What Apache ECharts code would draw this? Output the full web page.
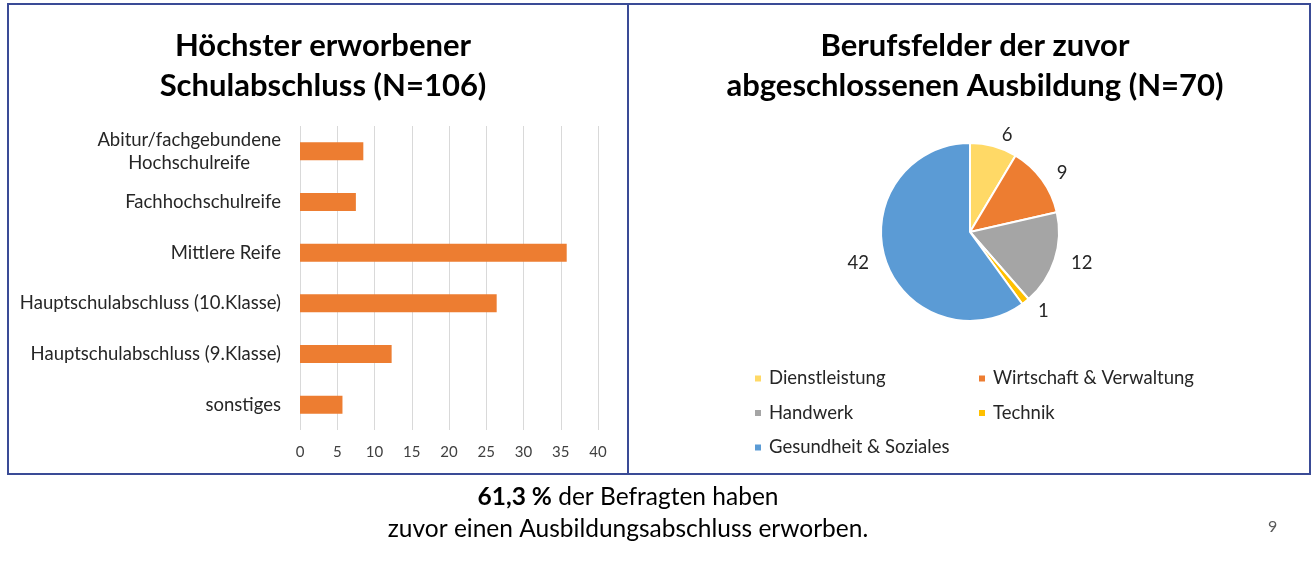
<!DOCTYPE html>
<html>
<head>
<meta charset="utf-8">
<script src="https://cdn.jsdelivr.net/npm/echarts@6/dist/echarts.min.js"></script>
<style>
  html, body { margin: 0; padding: 0; background: #fff; }
  #main { width: 1312px; height: 569px; }
</style>
</head>
<body>
<div id="main"></div>
<script>
// Balkendiagramm: Schulabschluss (Werte in %)
var schulKategorien = ['Abitur/fachgebundene Hochschulreife', 'Fachhochschulreife', 'Mittlere Reife',
    'Hauptschulabschluss (10.Klasse)', 'Hauptschulabschluss (9.Klasse)', 'sonstiges'];
var schulWerte = [8.5, 7.5, 35.8, 26.4, 12.3, 5.7];
var xTicks = [0, 5, 10, 15, 20, 25, 30, 35, 40];

// Kreisdiagramm: Berufsfelder
var berufsfelder = ['Dienstleistung', 'Wirtschaft & Verwaltung', 'Handwerk', 'Technik', 'Gesundheit & Soziales'];
var berufWerte = [6, 9, 12, 1, 42];
var berufFarben = ['#FFD966', '#ED7D31', '#A5A5A5', '#FFC000', '#5B9BD5'];

var FONT = 'Lato';
var container = document.getElementById('main');
var myChart = echarts.init(container);

var option = {
    animation: false,
    textStyle: { fontFamily: FONT },
    title: [
        {
            text: 'Höchster erworbener\nSchulabschluss (N=106)',
            left: 318, top: 21, textAlign: 'center',
            textStyle: { fontSize: 31, fontWeight: 'bold', color: '#000', lineHeight: 40, fontFamily: FONT }
        },
        {
            text: 'Berufsfelder der zuvor\nabgeschlossenen Ausbildung (N=70)',
            left: 970, top: 21, textAlign: 'center',
            textStyle: { fontSize: 31, fontWeight: 'bold', color: '#000', lineHeight: 40, fontFamily: FONT }
        }
    ],
    grid: { left: 300, right: 714, top: 126, bottom: 139 },
    xAxis: {
        type: 'value',
        min: xTicks[0], max: xTicks[xTicks.length - 1], interval: 5,
        axisLine: { show: false },
        axisTick: { show: false },
        axisLabel: { color: '#404040', fontSize: 15, margin: 15 },
        splitLine: { lineStyle: { color: '#D9D9D9', width: 1 } }
    },
    yAxis: {
        type: 'category',
        inverse: true,
        data: schulKategorien,
        axisLine: { show: false },
        axisTick: { show: false },
        axisLabel: {
            color: '#262626', fontSize: 18.5, margin: 19,
            formatter: function (v) {
                if (v.indexOf('Abitur') === 0) {
                    return '{c|Abitur/fachgebundene}\n{c|Hochschulreife}';
                }
                return v;
            },
            rich: { c: { align: 'center', fontSize: 18.5, color: '#262626', lineHeight: 23 } }
        }
    },
    legend: [
        {
            data: [berufsfelder[0], berufsfelder[2], berufsfelder[4]],
            orient: 'vertical', left: 753, top: 369,
            icon: 'rect', itemWidth: 8, itemHeight: 8, itemGap: 15.5, padding: 0,
            textStyle: { fontSize: 18.5, color: '#262626', padding: [0, 0, 0, 2] }
        },
        {
            data: [berufsfelder[1], berufsfelder[3]],
            orient: 'vertical', left: 977, top: 369,
            icon: 'rect', itemWidth: 8, itemHeight: 8, itemGap: 15.5, padding: 0,
            textStyle: { fontSize: 18.5, color: '#262626', padding: [0, 0, 0, 2] }
        }
    ],
    series: [
        {
            type: 'bar',
            data: schulWerte,
            barWidth: 18,
            itemStyle: { color: '#ED7D31' }
        },
        {
            type: 'pie',
            center: [970, 232],
            radius: 89,
            startAngle: 90,
            clockwise: true,
            data: berufsfelder.map(function (n, i) {
                return { name: n, value: berufWerte[i], itemStyle: { color: berufFarben[i] } };
            }),
            itemStyle: { borderColor: '#fff', borderWidth: 2 },
            label: { show: true, position: 'outside', formatter: '{c}', fontSize: 18.5, color: '#262626' },
            labelLine: { show: false, length: 12, length2: 0 }
        }
    ],
    graphic: [
        { type: 'rect', shape: { x: 8, y: 4, width: 1302, height: 470 },
          style: { fill: 'none', stroke: '#3A4B96', lineWidth: 2 } },
        { type: 'line', shape: { x1: 628, y1: 4, x2: 628, y2: 474 },
          style: { stroke: '#3A4B96', lineWidth: 2 } },
        { type: 'text', x: 628, y: 485,
          style: {
              text: '{b|61,3 %} der Befragten haben',
              font: '24.5px ' + FONT, fill: '#000', textAlign: 'center',
              rich: { b: { fontWeight: 'bold', fontSize: 24.5, fontFamily: FONT } }
          } },
        { type: 'text', x: 628, y: 517,
          style: { text: 'zuvor einen Ausbildungsabschluss erworben.', font: '24.5px ' + FONT,
                   fill: '#000', textAlign: 'center' } },
        { type: 'text', left: 1268, top: 519,
          style: { text: '9', font: '16px ' + FONT, fill: '#595959' } }
    ]
};

myChart.setOption(option);
</script>
</body>
</html>
